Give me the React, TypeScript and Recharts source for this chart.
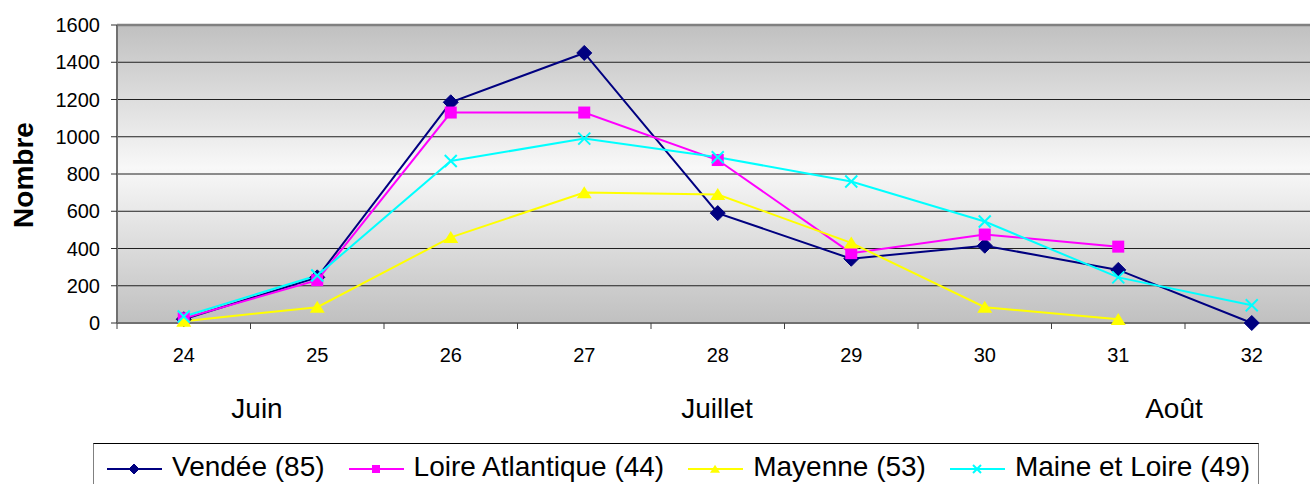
import React from 'react';
import { LineChart, Line, XAxis, YAxis, CartesianGrid, ReferenceLine } from 'recharts';

const weeks = [24, 25, 26, 27, 28, 29, 30, 31, 32];
const vendee = [20, 245, 1185, 1450, 590, 345, 415, 285, 0];
const loireAtl = [25, 230, 1130, 1130, 875, 375, 475, 410, null];
const mayenne = [10, 85, 460, 700, 690, 430, 85, 20, null];
const maineLoire = [35, 255, 870, 990, 890, 760, 545, 245, 95];
const yTicks = [0, 200, 400, 600, 800, 1000, 1200, 1400, 1600];
const months = [
  { label: 'Juin', x: 257 },
  { label: 'Juillet', x: 717 },
  { label: 'Août', x: 1174 },
];
const axisTitle = 'Nombre';

const FONT = '"Liberation Sans", Arial, sans-serif';

const data = weeks.map((w, i) => ({
  week: w,
  vendee: vendee[i],
  loireAtl: loireAtl[i],
  mayenne: mayenne[i],
  maineLoire: maineLoire[i],
}));

const xTicks = [...weeks.flatMap((w) => [w - 0.5, w]), weeks[weeks.length - 1] + 0.5];

type Shape = 'diamond' | 'square' | 'triangle' | 'x';

const renderMarker = (shape: Shape, cx: number, cy: number, color: string, s: number, key?: any) => {
  if (shape === 'diamond') {
    return <path key={key} d={`M${cx},${cy - s}L${cx + s},${cy}L${cx},${cy + s}L${cx - s},${cy}Z`} fill={color} stroke={color} strokeWidth={1} />;
  }
  if (shape === 'square') {
    const h = s * 0.8;
    return <rect key={key} x={cx - h} y={cy - h} width={2 * h} height={2 * h} fill={color} />;
  }
  if (shape === 'triangle') {
    return <path key={key} d={`M${cx},${cy - s * 0.85}L${cx + s},${cy + s * 0.75}L${cx - s},${cy + s * 0.75}Z`} fill={color} />;
  }
  const h = s * 0.8;
  return (
    <path key={key} d={`M${cx - h},${cy - h}L${cx + h},${cy + h}M${cx + h},${cy - h}L${cx - h},${cy + h}`} stroke={color} strokeWidth={2} fill="none" />
  );
};

const makeDot = (shape: Shape, color: string) => (props: any) => {
  const { cx, cy, index, value } = props;
  if (cx == null || cy == null || value == null || (Array.isArray(value) && value[1] == null)) {
    return <g key={`e${index}`} />;
  }
  return renderMarker(shape, cx, cy, color, 7.5, `d${index}`);
};

const series: { key: string; name: string; color: string; shape: Shape }[] = [
  { key: 'vendee', name: 'Vendée (85)', color: '#000080', shape: 'diamond' },
  { key: 'loireAtl', name: 'Loire Atlantique (44)', color: '#ff00ff', shape: 'square' },
  { key: 'mayenne', name: 'Mayenne (53)', color: '#ffff00', shape: 'triangle' },
  { key: 'maineLoire', name: 'Maine et Loire (49)', color: '#00ffff', shape: 'x' },
];

const XTick = (props: any) => {
  const { x, y, payload } = props;
  const v = payload.value;
  if (Number.isInteger(v)) {
    return (
      <text x={x} y={y + 39} textAnchor="middle" fontSize={20} fontFamily={FONT} fill="#000">
        {v}
      </text>
    );
  }
  return <line x1={x} x2={x} y1={y} y2={y + 6} stroke="#404040" strokeWidth={1} />;
};

export default function App() {
  return (
    <div style={{ position: 'absolute', left: 0, top: 0, width: 1310, height: 484, overflow: 'hidden', background: '#fff', fontFamily: FONT }}>
      <LineChart width={1320} height={380} data={data} margin={{ top: 25, right: 1.5, left: 0, bottom: 0 }}>
        <defs>
          <linearGradient id="bgGrad" x1="0" y1="0" x2="0" y2="1">
            <stop offset="0%" stopColor="#c0c0c0" />
            <stop offset="48%" stopColor="#f8f8f8" />
            <stop offset="100%" stopColor="#c0c0c0" />
          </linearGradient>
        </defs>
        <CartesianGrid vertical={false} stroke="#202020" strokeWidth={1} fill="url(#bgGrad)" fillOpacity={1} />
        <XAxis
          type="number"
          dataKey="week"
          domain={[xTicks[0], xTicks[xTicks.length - 1]]}
          ticks={xTicks}
          interval={0}
          tickSize={0}
          tickMargin={0}
          tickLine={false}
          tick={<XTick />}
          height={57}
          axisLine={{ stroke: '#707070', strokeWidth: 2 }}
          allowDataOverflow
        />
        <YAxis
          domain={[0, 1600]}
          ticks={yTicks}
          interval={0}
          width={117}
          tickSize={6}
          tickMargin={11}
          tick={{ fill: '#000', fontSize: 20, fontFamily: FONT }}
          tickLine={{ stroke: '#303030' }}
          axisLine={{ stroke: '#707070', strokeWidth: 2 }}
        />
        <ReferenceLine y={1600} stroke="#808080" strokeWidth={2.5} />
        {series.map((s) => (
          <Line
            key={s.key}
            type="linear"
            dataKey={s.key}
            stroke={s.color}
            strokeWidth={2}
            dot={makeDot(s.shape, s.color)}
            activeDot={false}
            connectNulls={false}
            isAnimationActive={false}
          />
        ))}
      </LineChart>
      <svg width={1310} height={484} style={{ position: 'absolute', left: 0, top: 0, pointerEvents: 'none' }}>
        <text transform="translate(33,175) rotate(-90)" textAnchor="middle" fontSize={28} fontWeight="bold" fontFamily={FONT} fill="#000">
          {axisTitle}
        </text>
        {months.map((m) => (
          <text key={m.label} x={m.x} y={418} textAnchor="middle" fontSize={28} fontFamily={FONT} fill="#000">
            {m.label}
          </text>
        ))}
      </svg>
      <div
        style={{
          position: 'absolute',
          left: 93,
          top: 443,
          width: 1166,
          height: 60,
          boxSizing: 'border-box',
          borderTop: '1px solid #000',
          borderLeft: '1px solid #808080',
          borderRight: '1px solid #808080',
          display: 'flex',
          alignItems: 'flex-start',
          paddingLeft: 13,
          paddingTop: 7,
        }}
      >
        {series.map((s) => (
          <div key={s.key} style={{ display: 'flex', alignItems: 'center', height: 32, marginRight: 24 }}>
            <svg width={55} height={20} style={{ display: 'block' }}>
              <line x1={0} x2={55} y1={12} y2={12} stroke={s.color} strokeWidth={2} />
              {renderMarker(s.shape, 27, 12, s.color, 5)}
            </svg>
            <span style={{ marginLeft: 10, fontSize: 28, lineHeight: '32px', color: '#000', whiteSpace: 'nowrap' }}>{s.name}</span>
          </div>
        ))}
      </div>
    </div>
  );
}
